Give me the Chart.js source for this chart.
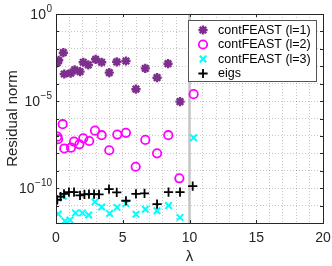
<!DOCTYPE html>
<html>
<head>
<meta charset="utf-8">
<title>Residual norm vs lambda</title>
<script src="https://cdn.jsdelivr.net/npm/chart.js@4.4.1/dist/chart.umd.min.js"></script>
<style>
  html, body { margin: 0; padding: 0; background: #fff; }
  #chart { display: block; }
</style>
</head>
<body>
<canvas id="chart" width="332" height="266"></canvas>
<script>
// ---------- data ----------
const l1Lambda = [0.10, 0.20, 0.55, 0.62, 1.10, 1.40, 1.80, 2.04, 2.42, 2.97, 3.42, 3.99, 4.55, 5.24, 5.99, 6.69, 7.57, 8.39, 9.29];
const l1Resid  = [1.6e-3, 2.2e-3, 6.0e-3, 3.6e-4, 4.0e-4, 6.2e-4, 4.9e-4, 1.7e-3, 1.2e-3, 2.5e-3, 1.7e-3, 4.3e-4, 1.8e-3, 2.0e-3, 4.8e-5, 7.6e-4, 2.2e-4, 1.4e-3, 9.3e-6];

const l2Lambda = [0.10, 0.15, 0.50, 0.62, 1.12, 1.35, 1.75, 2.04, 2.49, 2.92, 3.42, 3.99, 4.59, 5.24, 5.97, 6.69, 7.57, 8.41, 9.24, 10.31];
const l2Resid  = [9.1e-8, 6.5e-8, 4.7e-7, 1.9e-8, 2.1e-8, 4.7e-8, 3.3e-8, 7.2e-8, 5.1e-8, 2.0e-7, 1.1e-7, 1.5e-8, 1.2e-7, 1.5e-7, 1.7e-9, 5.9e-8, 1.0e-8, 1.1e-7, 3.7e-10, 2.5e-5];

const l3Lambda = [0.17, 0.55, 0.67, 1.05, 1.46, 1.98, 2.45, 2.92, 3.42, 4.02, 4.57, 5.24, 5.99, 6.69, 7.57, 8.43, 9.29, 10.31];
const l3Resid  = [3.3e-12, 3.4e-11, 1.3e-12, 1.5e-12, 3.8e-12, 3.8e-12, 2.9e-12, 1.6e-11, 8.3e-12, 3.5e-12, 7.9e-12, 1.3e-11, 3.2e-12, 6.2e-12, 5.1e-12, 1.0e-11, 2.1e-12, 7.9e-8];

const eigsLambda = [0.10, 0.34, 0.60, 0.97, 1.35, 1.80, 2.13, 2.47, 2.85, 3.22, 3.97, 4.55, 5.24, 5.99, 6.63, 7.57, 8.43, 9.29, 10.24];
const eigsResid  = [2.1e-11, 3.3e-11, 4.7e-11, 6.0e-11, 6.0e-11, 3.9e-11, 4.4e-11, 4.5e-11, 4.5e-11, 4.4e-11, 8.9e-11, 5.8e-11, 1.9e-11, 4.7e-11, 5.0e-11, 1.2e-11, 6.0e-11, 6.0e-11, 1.3e-10];

// vertical marker at lambda = 10
const cutLambda = [10, 10];
const cutResid  = [1e-12, 1];

const seriesLabels = ['contFEAST (l=1)', 'contFEAST (l=2)', 'contFEAST (l=3)', 'eigs'];

const xTickLabels = [0, 5, 10, 15, 20];
const yTickExps = [0, -1, -2, -3, -4, -5, -6, -7, -8, -9, -10, -11, -12];
const yLabelExps = [0, -5, -10];

// ---------- style ----------
const FONT = "'Liberation Sans', Arial, Helvetica, sans-serif";
const AXIS_COLOR = '#262626';
const GRID_COLOR = 'rgba(0,0,0,0.22)';

const PURPLE = '#7E2F8E';
const MAGENTA = '#FF00FF';
const CYAN = '#00FFFF';
const BLACK = '#000000';

function toPoints(xs, ys) {
  return xs.map((x, i) => ({ x: x, y: ys[i] }));
}

const markerStyles = [
  { pointStyle: 'star', radius: 4.6, borderWidth: 2.4, color: PURPLE, fill: PURPLE },
  { pointStyle: 'circle', radius: 4.2, borderWidth: 1.8, color: MAGENTA, fill: 'rgba(0,0,0,0)' },
  { pointStyle: 'crossRot', radius: 4.6, borderWidth: 2, color: CYAN, fill: CYAN },
  { pointStyle: 'cross', radius: 4.6, borderWidth: 1.8, color: BLACK, fill: BLACK }
];

function scatterSet(i, data, order) {
  const m = markerStyles[i];
  return {
    label: seriesLabels[i],
    data: data,
    order: order,
    showLine: false,
    pointStyle: m.pointStyle,
    pointRadius: m.radius,
    pointBorderWidth: m.borderWidth,
    borderColor: m.color,
    backgroundColor: m.fill,
    pointBorderColor: m.color,
    pointBackgroundColor: m.fill
  };
}

// ---------- plugins ----------
// y labels as 10 with a raised exponent, placed from the scale
const powerLabels = {
  id: 'powerLabels',
  afterDraw(chart) {
    const ctx = chart.ctx;
    const ys = chart.scales.y;
    const right = chart.chartArea.left - 4;
    ctx.save();
    ctx.fillStyle = AXIS_COLOR;
    ctx.textBaseline = 'middle';
    yLabelExps.forEach(e => {
      const py = ys.getPixelForValue(Math.pow(10, e));
      const expText = String(e).replace('-', '\u2212');
      ctx.font = '10px ' + FONT;
      const ew = ctx.measureText(expText).width;
      ctx.textAlign = 'right';
      ctx.fillText(expText, right, py - 5);
      ctx.font = '14px ' + FONT;
      ctx.fillText('10', right - ew - 0.5, py + 1);
    });
    ctx.restore();
  }
};

const frameAndLegend = {
  id: 'frameAndLegend',
  afterDraw(chart) {
    const ctx = chart.ctx;
    const a = chart.chartArea;
    const xs = chart.scales.x;
    const ys = chart.scales.y;
    ctx.save();

    // inward tick marks
    ctx.strokeStyle = AXIS_COLOR;
    ctx.lineWidth = 1;
    ctx.beginPath();
    xTickLabels.forEach(v => {
      const px = Math.round(xs.getPixelForValue(v)) + 0.5;
      ctx.moveTo(px, a.bottom); ctx.lineTo(px, a.bottom - 3);
      ctx.moveTo(px, a.top); ctx.lineTo(px, a.top + 3);
    });
    yTickExps.forEach(e => {
      const py = Math.round(ys.getPixelForValue(Math.pow(10, e))) + 0.5;
      ctx.moveTo(a.left, py); ctx.lineTo(a.left + 3, py);
      ctx.moveTo(a.right, py); ctx.lineTo(a.right - 3, py);
    });
    ctx.stroke();

    // box around axes
    ctx.strokeRect(Math.round(a.left) + 0.5, Math.round(a.top) + 0.5,
      Math.round(a.right - a.left), Math.round(a.bottom - a.top));

    // legend
    const lx = 188, ly = 20, lw = 128, lh = 61;
    ctx.fillStyle = '#fff';
    ctx.fillRect(lx, ly, lw, lh);
    ctx.strokeStyle = '#555';
    ctx.strokeRect(lx + 0.5, ly + 0.5, lw, lh);

    ctx.font = '12.5px ' + FONT;
    ctx.textBaseline = 'middle';
    ctx.textAlign = 'left';
    seriesLabels.forEach((label, i) => {
      const m = markerStyles[i];
      const cy = ly + 10 + i * 14.5;
      ctx.strokeStyle = m.color;
      ctx.fillStyle = m.fill;
      ctx.lineWidth = m.borderWidth;
      Chart.helpers.drawPoint(ctx, { pointStyle: m.pointStyle, radius: m.radius, borderWidth: m.borderWidth, rotation: 0 }, lx + 15, cy);
      ctx.fillStyle = '#000';
      ctx.fillText(label, lx + 30, cy + 0.5);
    });
    ctx.restore();
  }
};

// ---------- chart ----------
const ctx = document.getElementById('chart');

new Chart(ctx, {
  type: 'scatter',
  data: {
    datasets: [
      scatterSet(3, toPoints(eigsLambda, eigsResid), 1),
      scatterSet(2, toPoints(l3Lambda, l3Resid), 2),
      scatterSet(1, toPoints(l2Lambda, l2Resid), 3),
      scatterSet(0, toPoints(l1Lambda, l1Resid), 4),
      {
        label: 'cut',
        data: toPoints(cutLambda, cutResid),
        order: 5,
        showLine: true,
        pointRadius: 0,
        borderColor: '#c4c4c4',
        borderWidth: 2.5
      }
    ]
  },
  options: {
    responsive: false,
    animation: false,
    devicePixelRatio: 1,
    layout: { padding: { left: 0, right: 9, top: 14, bottom: 0 } },
    plugins: {
      legend: { display: false },
      tooltip: { enabled: false }
    },
    scales: {
      x: {
        type: 'linear',
        min: 0,
        max: 20,
        ticks: {
          stepSize: 1,
          autoSkip: false,
          maxRotation: 0,
          padding: 7,
          color: AXIS_COLOR,
          font: { family: FONT, size: 14 },
          callback: (v) => xTickLabels.includes(v) ? String(v) : ''
        },
        grid: { color: GRID_COLOR, drawTicks: false, lineWidth: 1 },
        border: { display: false, dash: [1, 2] },
        title: {
          display: true,
          text: '\u03BB',
          color: AXIS_COLOR,
          font: { family: FONT, size: 15 },
          padding: { top: 5, bottom: 0 }
        },
        afterFit(scale) {
          scale.height = 43;
          scale.paddingLeft = 0;
          scale.paddingRight = 0;
        }
      },
      y: {
        type: 'logarithmic',
        min: 1e-12,
        max: 1,
        afterBuildTicks(scale) {
          scale.ticks = yTickExps.map(e => ({ value: Math.pow(10, e) }));
        },
        ticks: {
          autoSkip: false,
          padding: 4,
          callback: () => ''
        },
        grid: { color: GRID_COLOR, drawTicks: false, lineWidth: 1 },
        border: { display: false, dash: [1, 2] },
        title: {
          display: true,
          text: 'Residual norm',
          color: AXIS_COLOR,
          font: { family: FONT, size: 15 },
          padding: { top: 4, bottom: 0 }
        },
        afterFit(scale) {
          scale.width = 56;
          scale.paddingTop = 0;
          scale.paddingBottom = 0;
        }
      }
    }
  },
  plugins: [powerLabels, frameAndLegend]
});
</script>
</body>
</html>
